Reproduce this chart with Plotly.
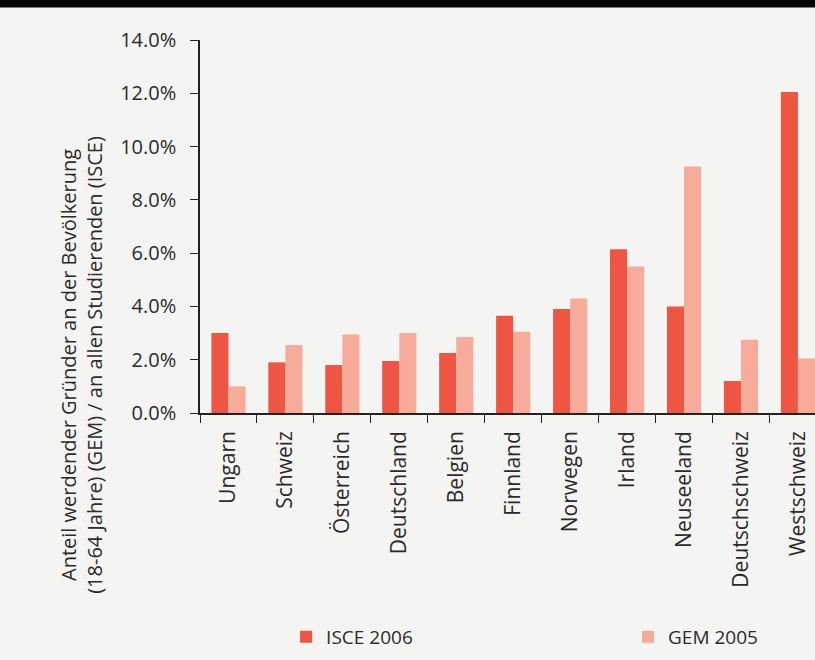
import plotly.graph_objects as go

categories = ["Ungarn", "Schweiz", "Österreich", "Deutschland", "Belgien", "Finnland",
              "Norwegen", "Irland", "Neuseeland", "Deutschschweiz", "Westschweiz"]
isce_2006 = [3.0, 1.9, 1.8, 1.95, 2.25, 3.65, 3.9, 6.15, 4.0, 1.2, 12.05]
gem_2005 = [1.0, 2.55, 2.95, 3.0, 2.85, 3.05, 4.3, 5.5, 9.25, 2.75, 2.05]
y_ticks = [0, 2, 4, 6, 8, 10, 12, 14]
y_tick_labels = ["0.0%", "2.0%", "4.0%", "6.0%", "8.0%", "10.0%", "12.0%", "14.0%"]

FONT = "Open Sans"
TEXT = "#2b2b2b"
BG = "#f4f4f2"

fig = go.Figure()
fig.add_trace(go.Bar(x=categories, y=isce_2006, name="ISCE 2006", legend="legend",
                     marker=dict(color="#ef5543", line=dict(width=0))))
fig.add_trace(go.Bar(x=categories, y=gem_2005, name="GEM 2005", legend="legend2",
                     marker=dict(color="#f6ab9b", line=dict(width=0))))

legend_style = dict(orientation="h", yanchor="middle", y=-0.60, xanchor="left",
                    font=dict(size=19, color=TEXT, family=FONT),
                    bgcolor="rgba(0,0,0,0)", itemsizing="constant")

fig.update_layout(
    width=815, height=660,
    margin=dict(l=200, r=0, t=40, b=247),
    paper_bgcolor=BG, plot_bgcolor=BG,
    barmode="group", bargap=0.4, bargroupgap=0,
    font=dict(family=FONT, color=TEXT, size=19),
    showlegend=True,
    legend=dict(x=0.14, **legend_style),
    legend2=dict(x=0.696, **legend_style),
)

fig.update_xaxes(
    range=[-0.5, 10.3], showgrid=False, zeroline=False,
    showline=True, linecolor="#222222", linewidth=1.5,
    ticks="outside", tickson="boundaries", ticklen=8, tickwidth=1.2, tickcolor="#222222",
    tickangle=-90, ticklabelstandoff=8,
    tickfont=dict(size=21, color=TEXT, family=FONT),
)
fig.update_yaxes(
    range=[0, 14], showgrid=False, zeroline=False,
    showline=True, linecolor="#222222", linewidth=1.5,
    ticks="outside", ticklen=8, tickwidth=1.2, tickcolor="#222222",
    tickvals=y_ticks, ticktext=y_tick_labels, ticklabelstandoff=10,
    tickfont=dict(size=20, color=TEXT, family=FONT),
)

# Two-line rotated axis caption on the left
fig.add_annotation(
    text="Anteil werdender Gründer an der Bevölkerung<br>(18-64 Jahre) (GEM) / an allen Studierenden (ISCE)",
    xref="paper", yref="paper", x=-0.193, y=0.13,
    xanchor="center", yanchor="middle", textangle=-90, showarrow=False,
    font=dict(size=20, color=TEXT, family=FONT), align="center",
)

# Dark header strip along the top edge
fig.add_shape(type="rect", xref="paper", yref="paper",
              x0=-0.5, x1=1.1, y0=1.087, y1=1.2, fillcolor="#050505",
              line=dict(width=0), layer="above")

fig.write_html("out.html")
